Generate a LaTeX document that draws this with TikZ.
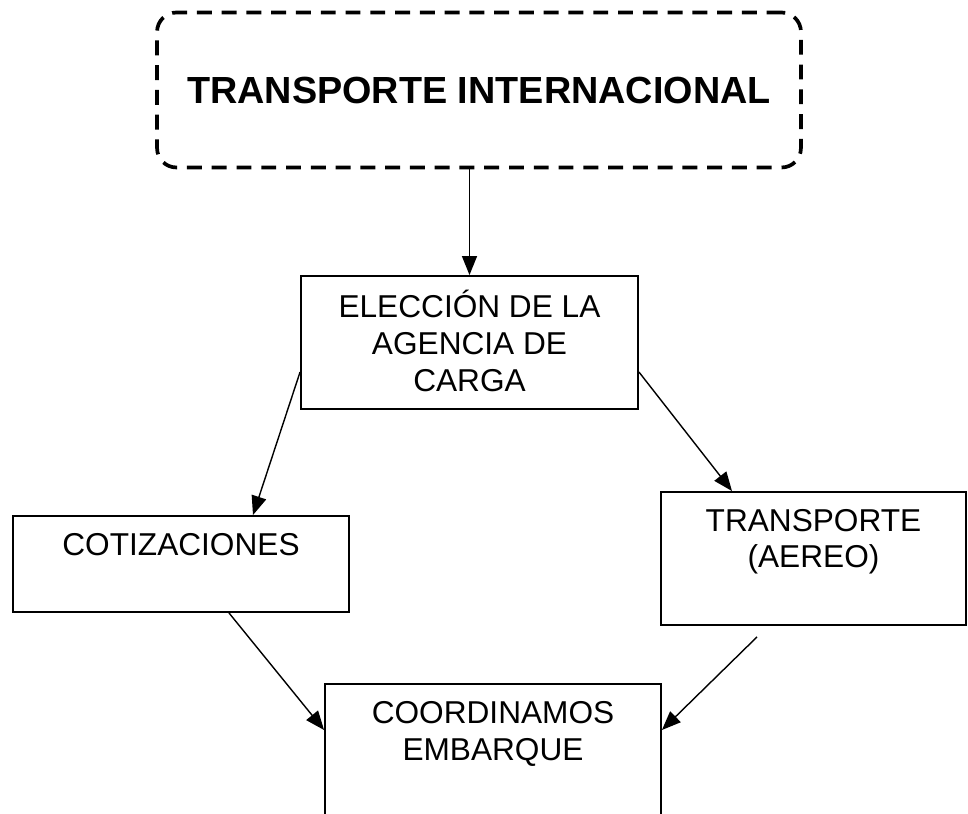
\documentclass[tikz,border=0pt]{standalone}
\usepackage{fontspec}
\setmainfont{Liberation Sans}
\usetikzlibrary{arrows.meta, positioning, calc}
\tikzset{
  >=Triangle,
  flecha/.style={-{Triangle[length=3.8mm, width=3mm]}, line width=0.8pt, black}
}

\begin{document}
\begin{tikzpicture}[
    x=0.02cm, y=-0.02cm,
    caja/.style={rectangle, draw=black, line width=1.1pt, inner sep=0pt},
    cajatitulo/.style={rectangle, draw=black, line width=2.1pt, dash pattern=on 8.5pt off 5.6pt, rounded corners=11pt, inner sep=0pt, font=\fontsize{21.5}{25}\selectfont\bfseries},
    texto/.style={font=\fontsize{18}{21}\selectfont, align=center, inner sep=0pt}
]
    \useasboundingbox (0,0) rectangle (968,814);

    \node[cajatitulo, minimum width=12.88cm, minimum height=3.1cm] (titulo) at (479,90) {TRANSPORTE INTERNACIONAL};

    \node[caja, minimum width=6.74cm, minimum height=2.66cm] (eleccion) at (469.5,342.5) {};
    \node[texto, below=8.5pt of eleccion.north] (t-eleccion) {ELECCIÓN DE LA\\AGENCIA DE\\CARGA};

    \node[caja, minimum width=6.72cm, minimum height=1.92cm] (cotiz) at (181,564) {};
    \node[texto, below=10.5pt of cotiz.north] (t-cotiz) {COTIZACIONES};

    \node[caja, minimum width=6.1cm, minimum height=2.66cm] (transp) at (813.5,558.5) {};
    \node[texto, below=10pt of transp.north] (t-transp) {TRANSPORTE\\(AEREO)};

    \node[caja, minimum width=6.72cm, minimum height=4cm] (coord) at (493,784) {};
    \node[texto, below=10.5pt of coord.north] (t-coord) {COORDINAMOS\\EMBARQUE};

    % puntos de salida sueltos
    \coordinate (s-cotiz) at ($(cotiz.south)+(48,0)$);
    \coordinate (s-transp) at ($(transp.south)+(-56.5,11)$);

    \draw[flecha] (eleccion.north |- titulo.south) -- (eleccion.north);
    \draw[flecha] ($(eleccion.west)+(0,29.5)$) -- ($(cotiz.north)+(72,0)$);
    \draw[flecha] ($(eleccion.east)+(0,29.5)$) -- ($(transp.north)+(-81.5,0)$);
    \draw[flecha] (s-cotiz) -- ($(coord.west)+(0,-54)$);
    \draw[flecha] (s-transp) -- ($(coord.east)+(0,-54)$);
\end{tikzpicture}
\end{document}
